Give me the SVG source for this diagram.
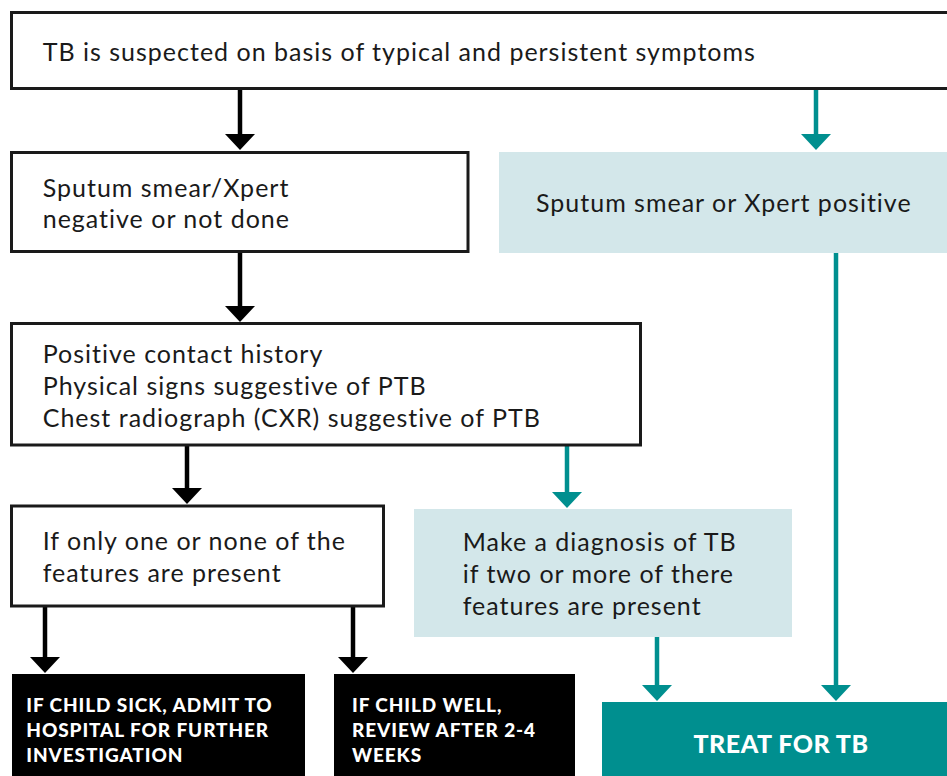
<svg xmlns="http://www.w3.org/2000/svg" width="947" height="776" viewBox="0 0 947 776">
<style>
.box{fill:#fff;stroke:#1a1a1a;stroke-width:3}
.blue{fill:#d3e7ea}
.black{fill:#000}
.teal{fill:#008f8f}
.t{font-family:Lato,"Open Sans","Liberation Sans",sans-serif;font-size:25px;letter-spacing:1px;fill:#1a1a1a}
.b{font-family:Lato,"Open Sans","Liberation Sans",sans-serif;font-size:19px;font-weight:900;letter-spacing:0.9px;fill:#fff}
.bt{font-family:Lato,"Open Sans","Liberation Sans",sans-serif;font-size:25px;font-weight:900;letter-spacing:0.5px;fill:#fff}
.lk{stroke:#000;stroke-width:4.5;fill:none}
.lt{stroke:#008f8f;stroke-width:4.5;fill:none}
.hk{fill:#000}
.ht{fill:#008f8f}
</style>
<g id="connectors">
<line class="lk" x1="240" y1="89" x2="240" y2="135"/><polygon class="hk" points="225,134 255,134 240,150"/>
<line class="lt" x1="816" y1="89" x2="816" y2="135"/><polygon class="ht" points="801,134 831,134 816,150"/>
<line class="lk" x1="240" y1="252" x2="240" y2="307"/><polygon class="hk" points="225,306 255,306 240,322"/>
<line class="lk" x1="187" y1="445" x2="187" y2="489"/><polygon class="hk" points="172,488 202,488 187,504"/>
<line class="lt" x1="567" y1="445" x2="567" y2="493"/><polygon class="ht" points="552,492 582,492 567,508"/>
<line class="lk" x1="45" y1="606" x2="45" y2="658"/><polygon class="hk" points="30,657 60,657 45,673"/>
<line class="lk" x1="353" y1="606" x2="353" y2="658"/><polygon class="hk" points="338,657 368,657 353,673"/>
<line class="lt" x1="657" y1="637" x2="657" y2="686"/><polygon class="ht" points="642,685 672,685 657,701"/>
<line class="lt" x1="836" y1="253" x2="836" y2="686"/><polygon class="ht" points="821,685 851,685 836,701"/>
</g>
<g id="n1"><rect class="box" x="11.5" y="12.5" width="950" height="76"/>
<text class="t" x="42.7" y="61">TB is suspected on basis of typical and persistent symptoms</text></g>
<g id="n2"><rect class="box" x="11.5" y="152.5" width="456.5" height="99"/>
<text class="t" x="42.7" y="197.3">Sputum smear/Xpert</text>
<text class="t" x="42.7" y="228.3">negative or not done</text></g>
<g id="n3"><rect class="blue" x="499" y="152" width="448" height="101"/>
<text class="t" x="536" y="211.7">Sputum smear or Xpert positive</text></g>
<g id="n4"><rect class="box" x="11.5" y="323.5" width="629" height="121.5"/>
<text class="t" x="42.7" y="363">Positive contact history</text>
<text class="t" x="42.7" y="395">Physical signs suggestive of PTB</text>
<text class="t" x="42.7" y="427">Chest radiograph (CXR) suggestive of PTB</text></g>
<g id="n5"><rect class="box" x="11.5" y="506" width="372" height="100"/>
<text class="t" x="42.7" y="550">If only one or none of the</text>
<text class="t" x="42.7" y="582">features are present</text></g>
<g id="n6"><rect class="blue" x="414" y="509" width="378" height="128"/>
<text class="t" x="462.7" y="551">Make a diagnosis of TB</text>
<text class="t" x="462.7" y="583">if two or more of there</text>
<text class="t" x="462.7" y="615">features are present</text></g>
<g id="n7"><rect class="black" x="12" y="674" width="293" height="102"/>
<text class="b" x="26.3" y="711.7">IF CHILD SICK, ADMIT TO</text>
<text class="b" x="26.3" y="736.7">HOSPITAL FOR FURTHER</text>
<text class="b" x="26.3" y="761.7">INVESTIGATION</text></g>
<g id="n8"><rect class="black" x="334" y="674" width="241" height="102"/>
<text class="b" x="352" y="711.7">IF CHILD WELL,</text>
<text class="b" x="352" y="736.7">REVIEW AFTER 2-4</text>
<text class="b" x="352" y="761.7">WEEKS</text></g>
<g id="n9"><rect class="teal" x="602" y="702" width="345" height="74"/>
<text class="bt" x="781" y="752.7" text-anchor="middle">TREAT FOR TB</text></g>
</svg>
